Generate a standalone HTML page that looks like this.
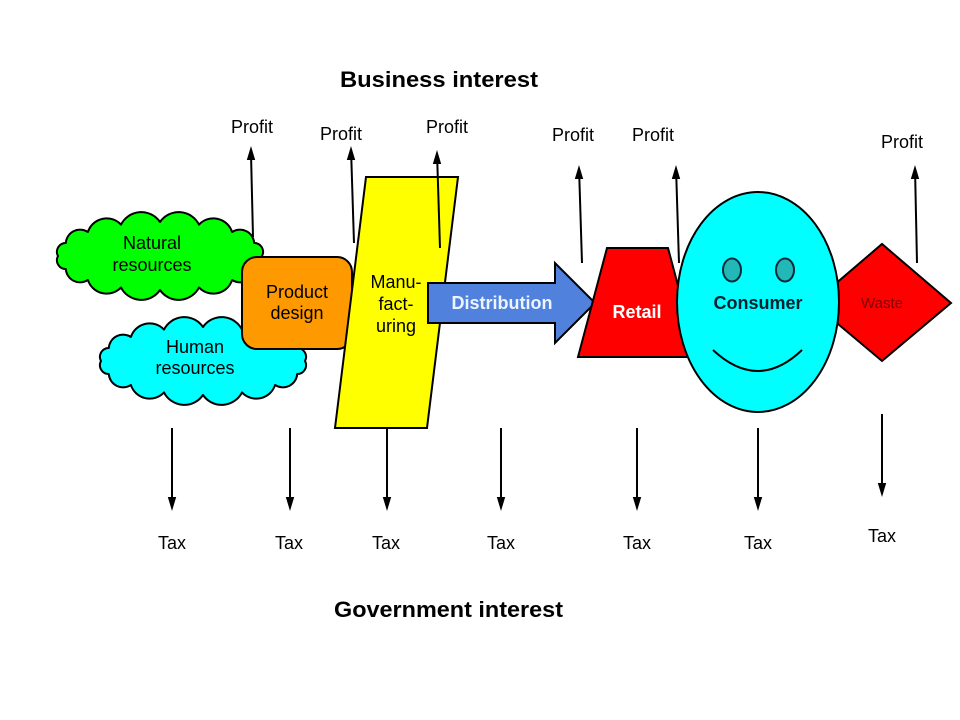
<!DOCTYPE html>
<html>
<head>
<meta charset="utf-8">
<style>
  html, body { margin: 0; padding: 0; background: #ffffff; }
  svg { display: block; }
  text { font-family: "Liberation Sans", Arial, sans-serif; }
</style>
</head>
<body>
<svg width="960" height="720" viewBox="0 0 960 720" xmlns="http://www.w3.org/2000/svg">
  <rect x="0" y="0" width="960" height="720" fill="#ffffff"/>

  <!-- Titles -->
  <text x="340" y="87" font-size="22" font-weight="bold" fill="#000" textLength="198" lengthAdjust="spacingAndGlyphs">Business interest</text>
  <text x="334" y="617" font-size="22" font-weight="bold" fill="#000" textLength="229" lengthAdjust="spacingAndGlyphs">Government interest</text>

  <!-- Natural resources cloud -->
  <path d="M262,256
           A8.8,8.8 0 0 1 254.2,269
           A14.3,14.3 0 0 1 232.1,280
           A19.7,19.7 0 0 1 199,287.4
           A22.7,22.7 0 0 1 160,290
           A22.7,22.7 0 0 1 121,287.4
           A19.7,19.7 0 0 1 87.9,280
           A14.3,14.3 0 0 1 65.8,269
           A8.8,8.8 0 0 1 58,256
           A8.8,8.8 0 0 1 65.8,243
           A14.3,14.3 0 0 1 87.9,232
           A19.7,19.7 0 0 1 121,224.6
           A22.7,22.7 0 0 1 160,222
           A22.7,22.7 0 0 1 199,224.6
           A19.7,19.7 0 0 1 232.1,232
           A14.3,14.3 0 0 1 254.2,243
           A8.8,8.8 0 0 1 262,256 Z"
        fill="#00ff00" stroke="#000" stroke-width="2" stroke-linejoin="round"/>
  <text x="152" y="249" font-size="18" text-anchor="middle" fill="#000">Natural</text>
  <text x="152" y="271" font-size="18" text-anchor="middle" fill="#000">resources</text>

  <!-- Human resources cloud -->
  <g transform="translate(43,105)">
    <path d="M262,256
             A8.8,8.8 0 0 1 254.2,269
             A14.3,14.3 0 0 1 232.1,280
             A19.7,19.7 0 0 1 199,287.4
             A22.7,22.7 0 0 1 160,290
             A22.7,22.7 0 0 1 121,287.4
             A19.7,19.7 0 0 1 87.9,280
             A14.3,14.3 0 0 1 65.8,269
             A8.8,8.8 0 0 1 58,256
             A8.8,8.8 0 0 1 65.8,243
             A14.3,14.3 0 0 1 87.9,232
             A19.7,19.7 0 0 1 121,224.6
             A22.7,22.7 0 0 1 160,222
             A22.7,22.7 0 0 1 199,224.6
             A19.7,19.7 0 0 1 232.1,232
             A14.3,14.3 0 0 1 254.2,243
             A8.8,8.8 0 0 1 262,256 Z"
          fill="#00ffff" stroke="#000" stroke-width="2" stroke-linejoin="round"/>
  </g>
  <text x="195" y="353" font-size="18" text-anchor="middle" fill="#000">Human</text>
  <text x="195" y="374" font-size="18" text-anchor="middle" fill="#000">resources</text>

  <!-- Product design -->
  <rect x="242" y="257" width="110" height="92" rx="15" ry="15" fill="#ff9900" stroke="#000" stroke-width="2"/>
  <text x="297" y="298" font-size="18" text-anchor="middle" fill="#000">Product</text>
  <text x="297" y="319" font-size="18" text-anchor="middle" fill="#000">design</text>

  <!-- Manufacturing parallelogram -->
  <polygon points="366,177 458,177 427,428 335,428" fill="#ffff00" stroke="#000" stroke-width="2" stroke-linejoin="miter"/>
  <text x="396" y="288" font-size="18" text-anchor="middle" fill="#000">Manu-</text>
  <text x="396" y="310" font-size="18" text-anchor="middle" fill="#000">fact-</text>
  <text x="396" y="332" font-size="18" text-anchor="middle" fill="#000">uring</text>

  <!-- Distribution arrow -->
  <polygon points="428,283 555,283 555,263 595,303 555,343 555,323 428,323" fill="#4f81dd" stroke="#000" stroke-width="2" stroke-linejoin="miter"/>
  <text x="502" y="309" font-size="18" font-weight="bold" text-anchor="middle" fill="#eef4ff">Distribution</text>

  <!-- Retail trapezoid -->
  <polygon points="607,248 668,248 697,357 578,357" fill="#ff0000" stroke="#000" stroke-width="2"/>

  <!-- Waste diamond -->
  <polygon points="813,303 882,244 951,303 882,361" fill="#ff0000" stroke="#000" stroke-width="2"/>

  <!-- Consumer face -->
  <ellipse cx="758" cy="302" rx="81" ry="110" fill="#00ffff" stroke="#000" stroke-width="2"/>
  <ellipse cx="732" cy="270" rx="9" ry="11.5" fill="#22b8b8" stroke="#0a2a3a" stroke-width="2"/>
  <ellipse cx="785" cy="270" rx="9" ry="11.5" fill="#22b8b8" stroke="#0a2a3a" stroke-width="2"/>
  <path d="M713,350 Q758,392 802,350" fill="none" stroke="#000" stroke-width="2"/>

  <text x="637" y="318" font-size="18" font-weight="bold" text-anchor="middle" fill="#ffffff">Retail</text>
  <text x="758" y="309" font-size="18" font-weight="bold" text-anchor="middle" fill="#00202e">Consumer</text>
  <text x="882" y="308" font-size="15" text-anchor="middle" fill="#800000">Waste</text>

  <!-- Profit arrows -->
  <g stroke="#000" stroke-width="2" fill="none">
    <line x1="253" y1="237" x2="251.1" y2="158"/>
    <line x1="354" y1="243" x2="351.3" y2="158"/>
    <line x1="440" y1="248" x2="437.3" y2="162"/>
    <line x1="582" y1="263" x2="579.3" y2="177"/>
    <line x1="679" y1="263" x2="676.3" y2="177"/>
    <line x1="917" y1="263" x2="915.2" y2="177"/>
  </g>
  <g fill="#000">
    <polygon points="251,146 246.8,160 255.2,160"/>
    <polygon points="351,146 346.8,160 355.2,160"/>
    <polygon points="437,150 432.8,164 441.2,164"/>
    <polygon points="579,165 574.8,179 583.2,179"/>
    <polygon points="676,165 671.8,179 680.2,179"/>
    <polygon points="915,165 910.8,179 919.2,179"/>
  </g>
  <g font-size="18" text-anchor="middle" fill="#000">
    <text x="252" y="133">Profit</text>
    <text x="341" y="140">Profit</text>
    <text x="447" y="133">Profit</text>
    <text x="573" y="141">Profit</text>
    <text x="653" y="141">Profit</text>
    <text x="902" y="148">Profit</text>
  </g>

  <!-- Tax arrows -->
  <g stroke="#000" stroke-width="2">
    <line x1="172" y1="428" x2="172" y2="500"/>
    <line x1="290" y1="428" x2="290" y2="500"/>
    <line x1="387" y1="428" x2="387" y2="500"/>
    <line x1="501" y1="428" x2="501" y2="500"/>
    <line x1="637" y1="428" x2="637" y2="500"/>
    <line x1="758" y1="428" x2="758" y2="500"/>
    <line x1="882" y1="414" x2="882" y2="486"/>
  </g>
  <g fill="#000">
    <polygon points="172,511 167.8,497 176.2,497"/>
    <polygon points="290,511 285.8,497 294.2,497"/>
    <polygon points="387,511 382.8,497 391.2,497"/>
    <polygon points="501,511 496.8,497 505.2,497"/>
    <polygon points="637,511 632.8,497 641.2,497"/>
    <polygon points="758,511 753.8,497 762.2,497"/>
    <polygon points="882,497 877.8,483 886.2,483"/>
  </g>
  <g font-size="18" text-anchor="middle" fill="#000">
    <text x="172" y="549">Tax</text>
    <text x="289" y="549">Tax</text>
    <text x="386" y="549">Tax</text>
    <text x="501" y="549">Tax</text>
    <text x="637" y="549">Tax</text>
    <text x="758" y="549">Tax</text>
    <text x="882" y="542">Tax</text>
  </g>
</svg>
</body>
</html>
